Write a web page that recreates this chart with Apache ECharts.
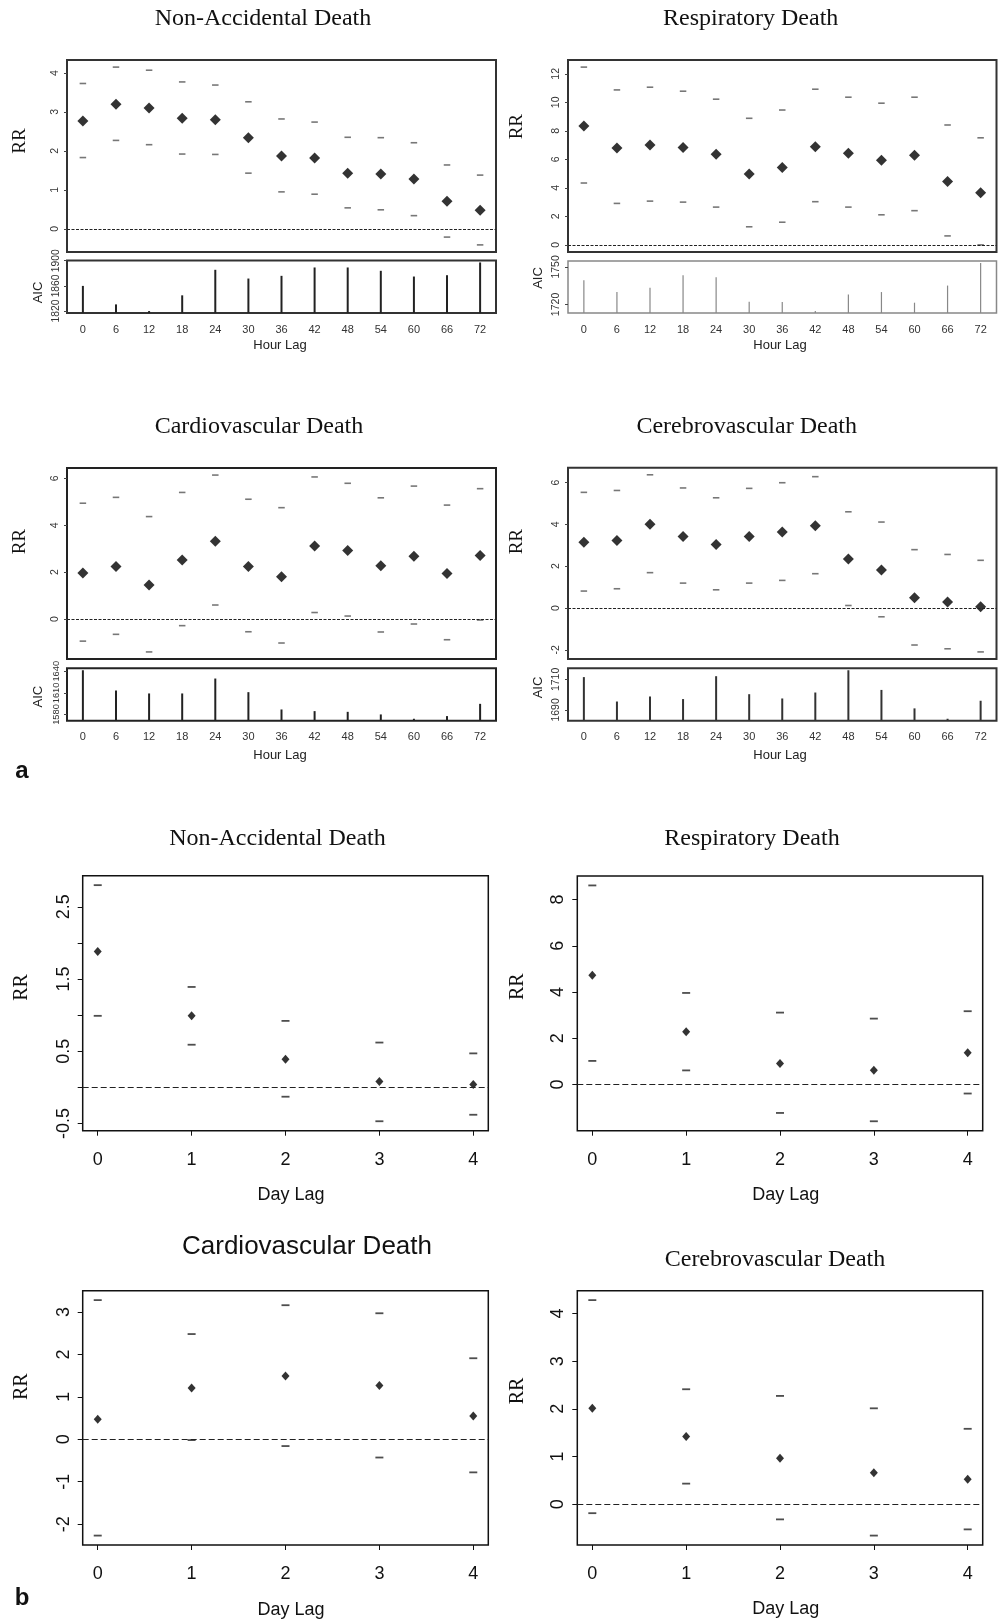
<!DOCTYPE html>
<html><head><meta charset="utf-8">
<script src="https://cdn.jsdelivr.net/npm/echarts@6/dist/echarts.min.js"></script>
<style>html,body{margin:0;padding:0;background:#fff}#c{width:1001px;height:1623px}</style>
</head><body><div id="c"></div>
<script>
// ---------- data ----------
const hourLags = [0,6,12,18,24,30,36,42,48,54,60,66,72];
const dayLags = [0,1,2,3,4];
const hourTickLabels = [0,6,12,18,24,30,36,42,48,54,60,66,72];
const dayTickLabels = [0,1,2,3,4];

// (a) hourly lags
const hNonAccEst = [2.77,3.20,3.10,2.84,2.80,2.34,1.87,1.82,1.43,1.41,1.28,0.71,0.48];
const hNonAccUp  = [3.73,4.15,4.07,3.77,3.69,3.26,2.82,2.74,2.35,2.34,2.21,1.64,1.38];
const hNonAccLo  = [1.83,2.27,2.16,1.92,1.91,1.43,0.95,0.89,0.54,0.49,0.34,-0.21,-0.41];
const hNonAccAIC = [1860,1830.6,1820,1845,1885.6,1871.7,1876,1889.3,1889.3,1884,1874.9,1877,1897.3];
const hNonAccRRTicks = [0,1,2,3,4];
const hNonAccAICTicks = [1820,1860,1900];

const hRespEst = [8.34,6.79,7.00,6.83,6.36,4.98,5.42,6.88,6.43,5.94,6.29,4.44,3.66];
const hRespUp  = [12.47,10.87,11.06,10.78,10.22,8.88,9.46,10.92,10.36,9.94,10.36,8.41,7.51];
const hRespLo  = [4.34,2.91,3.07,3.00,2.65,1.27,1.59,3.03,2.65,2.11,2.40,0.63,0.0];
const hRespAIC = [1739.4,1729.9,1733.3,1743.4,1741.8,1722.1,1721.9,1714.7,1728,1729.9,1721.4,1735.1,1753.2];
const hRespRRTicks = [0,2,4,6,8,10,12];
const hRespAICTicks = [1720,1750];

const hCardEst = [1.96,2.24,1.45,2.52,3.32,2.24,1.81,3.12,2.92,2.27,2.68,1.94,2.71];
const hCardUp  = [4.94,5.19,4.37,5.40,6.14,5.11,4.75,6.06,5.79,5.17,5.67,4.86,5.56];
const hCardLo  = [-0.94,-0.65,-1.40,-0.28,0.60,-0.54,-1.02,0.28,0.13,-0.55,-0.21,-0.88,-0.04];
const hCardAIC = [1641.4,1613.3,1609.2,1609.2,1629.9,1611,1587,1584.7,1583.7,1580.1,1574.1,1577.8,1594.8];
const hCardRRTicks = [0,2,4,6];
const hCardAICTicks = [1580,1610,1640];

const hCereEst = [3.14,3.23,4.00,3.42,3.04,3.42,3.63,3.93,2.34,1.82,0.49,0.29,0.06];
const hCereUp  = [5.53,5.62,6.37,5.74,5.27,5.72,5.99,6.28,4.60,4.11,2.79,2.56,2.28];
const hCereLo  = [0.81,0.92,1.69,1.19,0.87,1.19,1.32,1.64,0.12,-0.42,-1.77,-1.95,-2.10];
const hCereAIC = [1711.5,1695.5,1698.8,1697.1,1712.1,1700.3,1697.5,1701.4,1716,1703.1,1691,1684.2,1696];
const hCereRRTicks = [-2,0,2,4,6];
const hCereAICTicks = [1690,1710];

// (b) daily lags
const dNonAccEst = [1.88,0.99,0.39,0.08,0.04];
const dNonAccUp  = [2.80,1.39,0.92,0.62,0.47];
const dNonAccLo  = [0.99,0.59,-0.13,-0.47,-0.38];
const dNonAccTicks = [-0.5,0,0.5,1,1.5,2,2.5];
const dNonAccTickLabels = [-0.5,0.5,1.5,2.5];

const dRespEst = [4.73,2.28,0.91,0.62,1.37];
const dRespUp  = [8.61,3.96,3.11,2.85,3.17];
const dRespLo  = [1.02,0.61,-1.23,-1.59,-0.39];
const dRespTicks = [0,2,4,6,8];

const dCardEst = [0.47,1.21,1.49,1.27,0.55];
const dCardUp  = [3.28,2.48,3.16,2.97,1.91];
const dCardLo  = [-2.27,-0.02,-0.16,-0.43,-0.78];
const dCardTicks = [-2,-1,0,1,2,3];

const dCereEst = [2.01,1.42,0.96,0.66,0.52];
const dCereUp  = [4.28,2.41,2.27,2.01,1.58];
const dCereLo  = [-0.19,0.43,-0.32,-0.66,-0.53];
const dCereTicks = [0,1,2,3,4];

// ---------- build ----------
const SERIF = '"Liberation Serif","Times New Roman",serif';
const SANS = '"Liberation Sans",Arial,Helvetica,sans-serif';
const option = {animation:false, backgroundColor:'#fff', grid:[], xAxis:[], yAxis:[], series:[], graphic:[]};

function rRange(arrs){ // R-style 4% axis expansion
  let mn=Infinity, mx=-Infinity;
  arrs.forEach(a=>a.forEach(v=>{ if(v<mn)mn=v; if(v>mx)mx=v; }));
  const d=(mx-mn)*0.04; return [mn-d, mx+d];
}
function addGrid(b, color, width){
  option.grid.push({left:b[0], top:b[1], width:b[2], height:b[3], show:true, borderColor:color, borderWidth:width, backgroundColor:'transparent'});
  return option.grid.length-1;
}
function addX(gi, range, ticks, lab){
  option.xAxis.push({type:'value', gridIndex:gi, min:range[0], max:range[1], position:'bottom',
    splitLine:{show:false}, axisLine:{show:false, onZero:false},
    axisTick: (lab && lab.tick) ? {show:true, length:lab.tick, customValues:ticks, lineStyle:{color:'#111', width:1}} : {show:false},
    axisLabel: lab ? {show:true, customValues:ticks, margin:lab.margin, fontSize:lab.size, color:lab.color, fontFamily:SANS,
      hideOverlap:false} : {show:false}
  });
  return option.xAxis.length-1;
}
function addY(gi, range, ticks, labels, lab){
  option.yAxis.push({type:'value', gridIndex:gi, min:range[0], max:range[1], position:'left',
    splitLine:{show:false}, axisLine:{show:false, onZero:false},
    axisTick:{show:true, length:lab.tick, customValues:ticks, lineStyle:{color:lab.tickColor, width:1}},
    axisLabel:{show:true, customValues:labels, rotate:90, margin:lab.margin, fontSize:lab.size, color:lab.color, fontFamily:SANS,
      hideOverlap:false, formatter:(v)=>String(v)}
  });
  return option.yAxis.length-1;
}
function addPoints(xi, yi, xs, est, up, lo, st){
  const pts = a => a.map((v,i)=>[xs[i], v]);
  [up, lo].forEach(a=>option.series.push({type:'scatter', xAxisIndex:xi, yAxisIndex:yi, data:pts(a),
    symbol:'rect', symbolSize:st.dash, itemStyle:{color:st.dashColor}, silent:true, z:3}));
  option.series.push({type:'scatter', xAxisIndex:xi, yAxisIndex:yi, data:pts(est),
    symbol:'diamond', symbolSize:st.dia, itemStyle:{color:'#000'}, silent:true, z:4,
    markLine:{silent:true, symbol:'none', label:{show:false}, animation:false,
      lineStyle:{type:st.zeroType, color:'#222', width:1}, data:[{yAxis:0}]}});
}
function addAIC(xi, yi, xs, aic, color, w){
  option.series.push({type:'bar', xAxisIndex:xi, yAxisIndex:yi, data:aic.map((v,i)=>[xs[i], v]),
    barWidth:w, itemStyle:{color:color}, silent:true, clip:true, z:3});
}
function txt(x, y, text, font, rot, color){
  option.graphic.push({type:'text', x:x, y:y, rotation:rot||0, silent:true,
    style:{text:text, font:font, fill:color||'#111', align:'center', verticalAlign:'middle', textAlign:'center', textVerticalAlign:'middle'}});
}

const hourRange = rRange([hourLags]);
const dayRange = rRange([dayLags]);

// hourly panel
function hourPanel(p){
  const g1 = addGrid(p.rrBox, p.rrBorder, 2);
  const g2 = addGrid(p.aicBox, p.aicBorder, p.aicBorderW);
  const x1 = addX(g1, hourRange, hourTickLabels, null);
  const y1 = addY(g1, rRange([p.est, p.up, p.lo]), p.rrTicks, p.rrTicks, {tick:3, tickColor:'#444', margin:6, size:10.5, color:'#333'});
  addPoints(x1, y1, hourLags, p.est, p.up, p.lo, {dash:[6.5,1.6], dashColor:'#555', dia:[11,11], zeroType:[3,1.5]});
  const x2 = addX(g2, hourRange, hourTickLabels, {margin:11, size:11, color:'#333'});
  const y2 = addY(g2, rRange([p.aic]), p.aicTicks, p.aicTicks, {tick:3, tickColor:'#444', margin:6, size:p.aicFont, color:'#333'});
  addAIC(x2, y2, hourLags, p.aic, p.aicColor, p.aicW);
  txt(p.title[0], p.title[1], p.name, '24px ' + SERIF);
  txt(p.rr[0], p.rr[1], 'RR', '19px ' + SERIF, Math.PI/2);
  txt(p.aicLab[0], p.aicLab[1], 'AIC', '13px ' + SANS, Math.PI/2, '#222');
  txt(p.xLab[0], p.xLab[1], 'Hour Lag', '13px ' + SANS, 0, '#222');
}
function dayPanel(p){
  const g = addGrid(p.box, '#111', 1.5);
  const x = addX(g, dayRange, dayTickLabels, {tick:5, margin:20, size:18, color:'#111'});
  const y = addY(g, rRange([p.est, p.up, p.lo]), p.ticks, p.labels, {tick:5, tickColor:'#111', margin:10, size:18, color:'#111'});
  addPoints(x, y, dayLags, p.est, p.up, p.lo, {dash:[8,1.8], dashColor:'#222', dia:[8,9], zeroType:[6,3]});
  txt(p.title[0], p.title[1], p.name, p.titleFont);
  txt(p.rr[0], p.rr[1], 'RR', '20px ' + SERIF, Math.PI/2);
  txt(p.xLab[0], p.xLab[1], 'Day Lag', '18px ' + SANS, 0, '#111');
}

hourPanel({name:'Non-Accidental Death', est:hNonAccEst, up:hNonAccUp, lo:hNonAccLo, aic:hNonAccAIC,
  rrTicks:hNonAccRRTicks, aicTicks:hNonAccAICTicks, aicFont:10.3,
  rrBox:[67,60,429,192], aicBox:[67,260.5,429,52.5], rrBorder:'#333', aicBorder:'#333', aicBorderW:2, aicColor:'#222', aicW:2,
  title:[263,19], rr:[20.5,141], aicLab:[38.3,292.5], xLab:[280,345]});
hourPanel({name:'Respiratory Death', est:hRespEst, up:hRespUp, lo:hRespLo, aic:hRespAIC,
  rrTicks:hRespRRTicks, aicTicks:hRespAICTicks, aicFont:10.5,
  rrBox:[568,60,428.5,192], aicBox:[568,261,428.5,52], rrBorder:'#333', aicBorder:'#888', aicBorderW:1.5, aicColor:'#888', aicW:1.2,
  title:[750.7,19], rr:[516.7,126.7], aicLab:[538.3,278], xLab:[780,345]});
hourPanel({name:'Cardiovascular Death', est:hCardEst, up:hCardUp, lo:hCardLo, aic:hCardAIC,
  rrTicks:hCardRRTicks, aicTicks:hCardAICTicks, aicFont:9.3,
  rrBox:[67,468,429,191], aicBox:[67,668.3,429,52.4], rrBorder:'#222', aicBorder:'#222', aicBorderW:2, aicColor:'#222', aicW:2,
  title:[259,426.7], rr:[20.5,541.7], aicLab:[38.3,696.7], xLab:[280,755]});
hourPanel({name:'Cerebrovascular Death', est:hCereEst, up:hCereUp, lo:hCereLo, aic:hCereAIC,
  rrTicks:hCereRRTicks, aicTicks:hCereAICTicks, aicFont:10.5,
  rrBox:[568,467.7,428.5,191.3], aicBox:[568,668.3,428.5,52.4], rrBorder:'#333', aicBorder:'#333', aicBorderW:2, aicColor:'#333', aicW:2,
  title:[746.7,426.7], rr:[516.7,541.7], aicLab:[538.3,687.5], xLab:[780,755]});

dayPanel({name:'Non-Accidental Death', est:dNonAccEst, up:dNonAccUp, lo:dNonAccLo, ticks:dNonAccTicks, labels:dNonAccTickLabels,
  box:[82.7,875.7,405.6,255], title:[277.5,838.3], titleFont:'24px ' + SERIF, rr:[21.7,987.5], xLab:[291,1195]});
dayPanel({name:'Respiratory Death', est:dRespEst, up:dRespUp, lo:dRespLo, ticks:dRespTicks, labels:dRespTicks,
  box:[577.3,876,405.4,254.7], title:[752,838.3], titleFont:'24px ' + SERIF, rr:[517.5,986.7], xLab:[785.7,1195]});
dayPanel({name:'Cardiovascular Death', est:dCardEst, up:dCardUp, lo:dCardLo, ticks:dCardTicks, labels:dCardTicks,
  box:[82.7,1290.7,405.6,254.3], title:[307,1247], titleFont:'26px ' + SANS, rr:[21.7,1386.7], xLab:[291,1610]});
dayPanel({name:'Cerebrovascular Death', est:dCereEst, up:dCereUp, lo:dCereLo, ticks:dCereTicks, labels:dCereTicks,
  box:[577.3,1290.7,405.4,254.3], title:[775,1259.3], titleFont:'24px ' + SERIF, rr:[517.5,1391], xLab:[785.7,1609.3]});

txt(22, 771.7, 'a', 'bold 24px ' + SANS, 0, '#111');
txt(22, 1598, 'b', 'bold 24px ' + SANS, 0, '#111');

const chart = echarts.init(document.getElementById('c'), null, {renderer:'canvas'});
chart.setOption(option);
</script>
</body></html>
